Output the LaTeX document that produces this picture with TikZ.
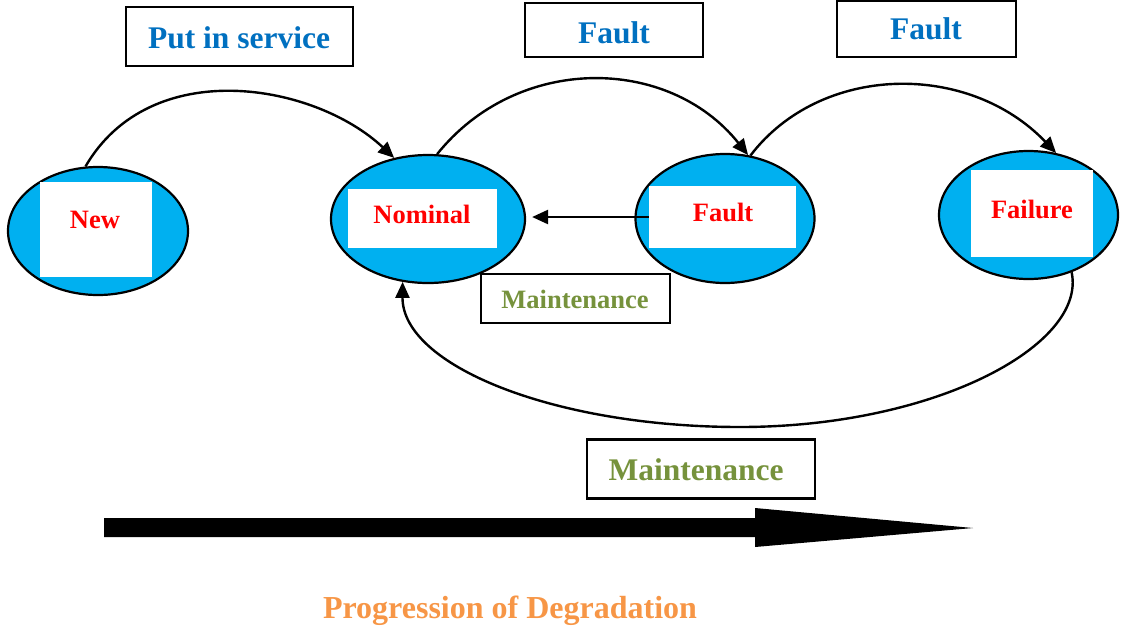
\documentclass[tikz,border=0pt]{standalone}
\usepackage{fontspec}
\setmainfont{Liberation Serif}
\usetikzlibrary{shapes.geometric,arrows.meta}
\definecolor{ellblue}{RGB}{0,176,240}
\definecolor{lblblue}{RGB}{0,112,192}
\definecolor{redtxt}{RGB}{255,0,0}
\definecolor{greentxt}{RGB}{118,146,60}
\definecolor{orangetxt}{RGB}{247,150,70}
\begin{document}
\begin{tikzpicture}[x=1pt,y=-1pt,
  state/.style={ellipse, draw=black, line width=2.2pt, fill=ellblue, inner sep=0pt},
  whitebox/.style={rectangle, fill=white, inner sep=0pt},
  lblbox/.style={rectangle, draw=black, line width=2.2pt, inner sep=0pt, fill=white},
  redlbl/.style={anchor=base, text=redtxt, font=\fontsize{26.5}{30}\selectfont\bfseries, inner sep=0pt},
  bluelbl/.style={anchor=base, text=lblblue, font=\fontsize{31.5}{36}\selectfont\bfseries, inner sep=0pt},
  greensmall/.style={anchor=base, text=greentxt, font=\fontsize{26.5}{30}\selectfont\bfseries, inner sep=0pt},
  greenbig/.style={anchor=base, text=greentxt, font=\fontsize{31.5}{36}\selectfont\bfseries, inner sep=0pt},
  orangelbl/.style={anchor=base, text=orangetxt, font=\fontsize{32}{36}\selectfont\bfseries, inner sep=0pt},
  conn/.style={line width=2.4pt, -{Triangle[length=16pt,width=14pt]}}
]
\useasboundingbox[fill=white] (0,0) rectangle (1124,625);

% states
\node[state, minimum width=180pt, minimum height=128pt] (new) at (98,231) {};
\node[state, minimum width=194pt, minimum height=128pt] (nominal) at (428,219) {};
\node[state, minimum width=179pt, minimum height=129pt] (fault) at (725,218.5) {};
\node[state, minimum width=179pt, minimum height=128pt] (failure) at (1028.5,215) {};

\node[whitebox, minimum width=112pt, minimum height=95pt] (newbox) at (96,229.5) {};
\node[whitebox, minimum width=149pt, minimum height=59pt] (nombox) at (422.5,218.5) {};
\node[whitebox, minimum width=147pt, minimum height=62pt] (faultbox) at (722.5,217) {};
\node[whitebox, minimum width=122pt, minimum height=87pt] (failbox) at (1032,213.5) {};

\node[redlbl] (newtxt) at (95,228) {New};
\node[redlbl] (nomtxt) at (422,223) {Nominal};
\node[redlbl] (faulttxt) at (723,221) {Fault};
\node[redlbl] (failtxt) at (1032,218) {Failure};

% label boxes
\node[lblbox, minimum width=227pt, minimum height=59pt] (pisbox) at (239.5,36.5) {};
\node[bluelbl] (pistxt) at (239,48) {Put in service};
\node[lblbox, minimum width=178pt, minimum height=54pt] (f1box) at (614,30) {};
\node[bluelbl] (f1txt) at (614,43) {Fault};
\node[lblbox, minimum width=179pt, minimum height=56pt] (f2box) at (926.5,29) {};
\node[bluelbl] (f2txt) at (926,39) {Fault};
\node[lblbox, minimum width=189pt, minimum height=49pt] (m1box) at (575.5,298.5) {};
\node[greensmall] (m1txt) at (575,308) {Maintenance};
\node[lblbox, minimum width=228pt, minimum height=59pt] (m2box) at (701,469) {};
\node[greenbig] (m2txt) at (696,480) {Maintenance};
\node[orangelbl] (progtxt) at (510,618) {Progression of Degradation};

% connectors
\draw[conn] (new.101) .. controls +(65,-112) and +(-80,-75) .. (nominal.119);
\draw[conn] (nominal.82) .. controls +(80,-100) and +(-80,-100) .. (fault.70);
\draw[conn] (fault.68) .. controls +(70,-92) and +(-88,-92) .. (failure.66);
\draw[conn, shorten >=6pt] (faultbox.west) -- (nominal.east |- faultbox.west);
\draw[conn] (failure.307) .. controls (1087,345) and (935,427) .. (740,427)
  .. controls (553,427) and (402,365) .. (nominal.248);

% progression arrow
\fill[black] (104,518) -- (755,518) -- (755,508) -- (973,528) -- (755,547)
  -- (755,537) -- (104,537) -- cycle;
\end{tikzpicture}
\end{document}
